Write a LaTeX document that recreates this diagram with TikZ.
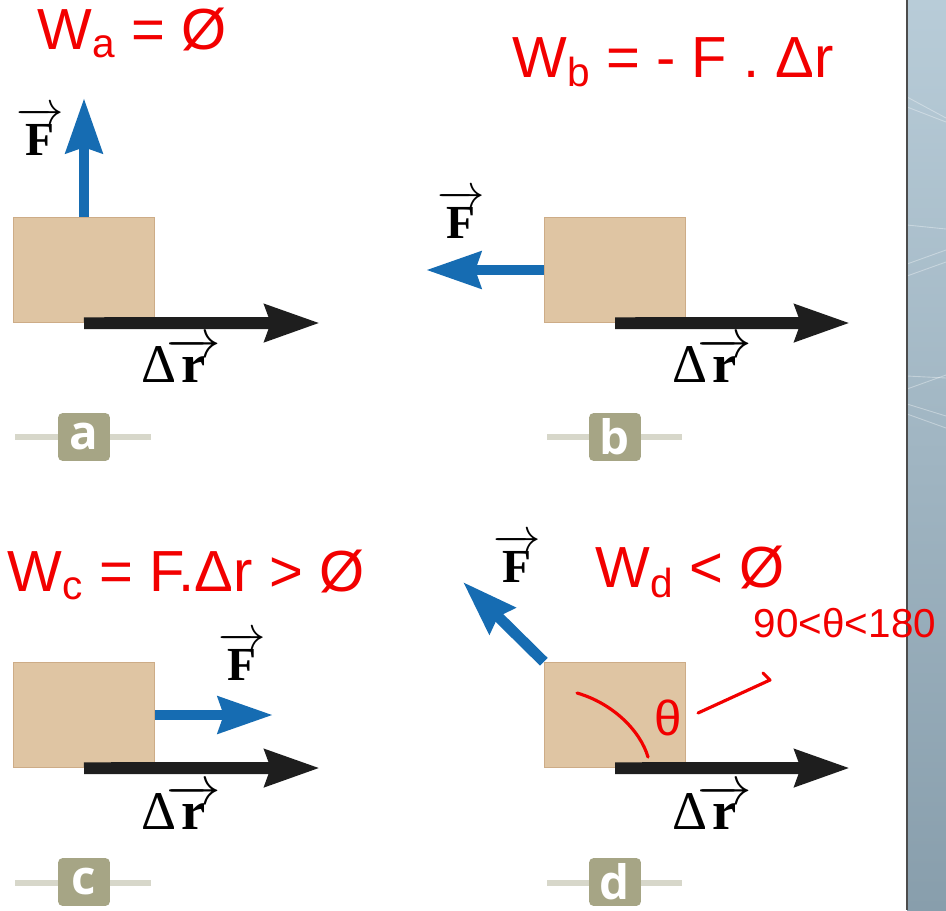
\RequirePackage{fix-cm}
\documentclass[tikz,border=0pt]{standalone}
\usepackage{amsmath}
\usepackage{fontspec}
\setmainfont{Liberation Serif}
\newfontfamily\handfont{Liberation Sans}
\newfontfamily\tagfont{Open Sans}
\usepackage{tikz}
\usetikzlibrary{arrows.meta,positioning}

\definecolor{boxtan}{RGB}{223,197,163}
\definecolor{boxedge}{RGB}{205,172,135}
\definecolor{forceblue}{RGB}{22,108,178}
\definecolor{dispblack}{RGB}{30,30,30}
\definecolor{tagolive}{RGB}{166,165,133}
\definecolor{tagrule}{RGB}{215,215,202}
\definecolor{inkred}{RGB}{242,0,0}
\definecolor{striptop}{RGB}{184,204,216}
\definecolor{stripbot}{RGB}{136,158,172}

\newcommand{\dispvec}{Δ\kern-6pt$\overrightarrow{\textbf{r}}$}

\tikzset{
  block/.style={draw=boxedge, fill=boxtan, line width=0.5pt,
    minimum width=80.5pt, minimum height=60.1pt, inner sep=0pt},
  force/.style={draw=forceblue, line width=6.2pt,
    -{Stealth[length=31pt,width=20.4pt,inset=3pt]}},
  disp/.style={draw=dispblack, line width=6.8pt,
    -{Stealth[length=31pt,width=20.4pt,inset=3pt]}},
  veclabel/.style={inner sep=0pt, font=\fontsize{27}{27}\selectfont},
  displabel/.style={inner sep=0pt, font=\fontsize{31}{31}\selectfont},
  ink/.style={inner sep=0pt, text=inkred, font=\handfont\fontsize{33}{33}\selectfont},
  inkpen/.style={draw=inkred, line width=1.8pt, line cap=round, line join=round},
  tag/.style={fill=tagolive, text=white, rounded corners=2.5pt, inner sep=0pt,
    minimum width=29.5pt, minimum height=27.2pt, font=\tagfont\bfseries\fontsize{27}{27}\selectfont},
  tagline/.style={draw=tagrule, line width=3.4pt},
}

\begin{document}
\begin{tikzpicture}[x=0.02cm, y=-0.02cm]
    \useasboundingbox (0,0) rectangle (946,910);

    % side strip
    \shade[top color=striptop, bottom color=stripbot] (907,0) rectangle (946,910);
    \foreach \ya/\yb in {97/118, 107/122, 225/229, 264/250, 276/262, 376/378, 389/375, 404/416, 414/428}
        \draw[white, opacity=0.35, line width=0.5pt] (907,\ya) -- (946,\yb);
    \draw[black!70, line width=1.2pt] (907,0) -- (907,910);

    % tag rules
    \draw[tagline] (15,437) -- (151,437);
    \draw[tagline] (547,437) -- (682,437);
    \draw[tagline] (15,883) -- (151,883);
    \draw[tagline] (547,883) -- (682,883);

    % blocks
    \node[block] (blocka) at (84,270) {};
    \node[block] (blockb) at (615,270) {};
    \node[block] (blockc) at (84,715) {};
    \node[block] (blockd) at (615,715) {};

    % arrow ends
    \coordinate (Fa) at (84,98);
    \coordinate (Fb) at (426,270);
    \coordinate (Fc) at (273,715);
    \coordinate (Fd) at (463,582);
    \coordinate (ra) at (320,323);
    \coordinate (rb) at (850,323);
    \coordinate (rc) at (320,768);
    \coordinate (rd) at (850,768);

    % force arrows
    \draw[force] (blocka.north) -- (Fa);
    \draw[force] (blockb.west) -- (Fb);
    \draw[force] (blockc.east) -- (Fc);
    \draw[force] (blockd.north west) -- (Fd);

    % displacement arrows
    \draw[disp] (blocka.south) -- (ra);
    \draw[disp] (blockb.south) -- (rb);
    \draw[disp] (blockc.south) -- (rc);
    \draw[disp] (blockd.south) -- (rd);

    % vector labels
    \node[veclabel] (Fla) at (40,131) {$\overrightarrow{\textbf{F}}$};
    \node[veclabel] (Flb) at (461,214) {$\overrightarrow{\textbf{F}}$};
    \node[veclabel] (Flc) at (242,656) {$\overrightarrow{\textbf{F}}$};
    \node[veclabel] (Fld) at (517,558) {$\overrightarrow{\textbf{F}}$};
    \node[displabel] (rla) at (181,360) {\dispvec};
    \node[displabel] (rlb) at (712,360) {\dispvec};
    \node[displabel] (rlc) at (181,807) {\dispvec};
    \node[displabel] (rld) at (712,807) {\dispvec};

    % tags
    \node[tag] (taga) at (84,437) {a};
    \node[tag] (tagb) at (615,437) {b};
    \node[tag] (tagc) at (84,882) {c};
    \node[tag] (tagd) at (615,882) {d};

    % handwritten notes
    \node[ink] (Wa) at (132,33) {W\textsubscript{a} = Ø};
    \node[ink] (Wb) at (673,62) {W\textsubscript{b} = - F . Δr};
    \node[ink] (Wc) at (186,575) {W\textsubscript{c} = F.Δr > Ø};
    \node[ink] (Wd) at (690,572) {W\textsubscript{d} < Ø};
    \node[ink, font=\handfont\fontsize{23}{23}\selectfont] (range) at (845,623) {90<θ<180};
    \node[ink, font=\handfont\fontsize{28}{28}\selectfont] (theta) at (668,718) {θ};

    % angle mark and pointer
    \draw[inkpen] (577,693) .. controls (612,703) and (640,730) .. (648,757);
    \coordinate (ptra) at (698,713);
    \coordinate (ptrb) at (770,680);
    \draw[inkpen] (ptra) -- (ptrb) -- ++(-7,-7);
\end{tikzpicture}
\end{document}
